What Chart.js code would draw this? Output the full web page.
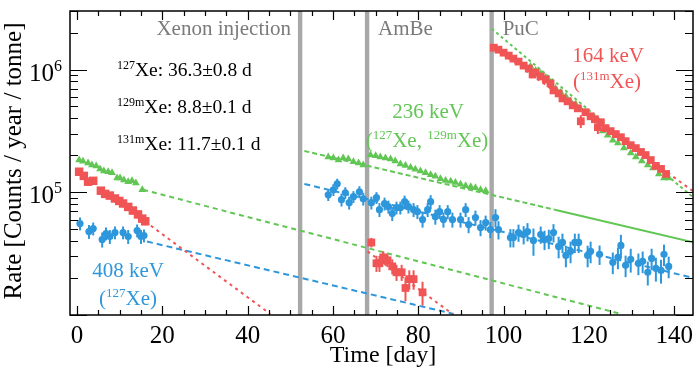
<!DOCTYPE html>
<html><head><meta charset="utf-8">
<script src="https://cdn.jsdelivr.net/npm/chart.js@4.4.1/dist/chart.umd.min.js"></script>
<style>html,body{margin:0;padding:0;background:#fff;}canvas{display:block}</style>
</head><body>
<canvas id="c" width="700" height="372"></canvas>
<script>
// ---------------- data ----------------
const xTickValues = [0, 20, 40, 60, 80, 100, 120, 140];
const yTickValues = [1e5, 1e6];
const yTickLabels = [['10', '5'], ['10', '6']];
const bandTimes = [52.3, 68.0, 97.2];
const bandLabels = ['Xenon injection', 'AmBe', 'PuC'];

// 236 keV (127Xe, 129mXe) - green triangles
const green1T = [0.5,1.4,2.6,3.5,4.5,5.4,6.3,7.3,8.2,9.4,10.1,11.0,12.0,12.9,13.8,15.3];
const green1V = [1.83e5,1.79e5,1.73e5,1.67e5,1.64e5,1.55e5,1.49e5,1.47e5,1.44e5,1.31e5,1.31e5,1.26e5,1.22e5,1.24e5,1.19e5,1.05e5];
const green2T = [58.9,60.1,61.3,62.4,63.6,64.8,66.0,67.1,68.8,70.0,71.1,72.3,73.5,74.6,75.8,77.0,78.2,79.3,80.5,81.7,82.9,84.0,85.2,86.4,87.6,88.7,89.9,91.1,92.3,93.4,94.6,95.8];
const green2V = [1.94e5,1.90e5,1.83e5,1.90e5,1.87e5,1.77e5,1.73e5,1.67e5,2.01e5,1.98e5,1.94e5,1.90e5,1.87e5,1.80e5,1.70e5,1.65e5,1.59e5,1.54e5,1.49e5,1.44e5,1.39e5,1.35e5,1.29e5,1.25e5,1.23e5,1.20e5,1.16e5,1.13e5,1.11e5,1.09e5,1.05e5,1.03e5];
const green3T = [106.3,107.5,108.7,109.9,111.0,112.2,113.4,114.6,115.7,116.9,118.1,119.2,120.4,122.1,123.2,124.4,125.6,126.8,128.2,129.8,131.0,132.4,133.8,135.0,136.4,137.6,138.7];
const green3V = [1.057e6,9.81e5,9.28e5,8.61e5,7.85e5,7.02e5,6.51e5,6.04e5,5.51e5,5.21e5,4.75e5,4.40e5,4.09e5,3.39e5,3.15e5,2.92e5,2.66e5,2.52e5,2.29e5,2.09e5,1.94e5,1.80e5,1.67e5,1.58e5,1.41e5,1.31e5,1.31e5];

// 164 keV (131mXe) - red squares
const red1T = [0.5,1.6,2.6,3.8,5.6,6.6,7.7,8.9,9.9,10.8,12.0,13.1,14.3,15.3,16.0];
const red1V = [1.47e5,1.36e5,1.22e5,1.24e5,1.03e5,9.7e4,9.4e4,8.9e4,8.5e4,8.1e4,7.6e4,7.1e4,6.6e4,6.1e4,5.8e4];
const red1E = [0.07,0.07,0.07,0.07,0.07,0.07,0.07,0.07,0.07,0.07,0.07,0.07,0.07,0.07,0.07];
const red2T = [69.0,70.2,70.9,71.8,72.8,73.9,74.9,76.1,77.0,77.9,78.9,81.0];
const red2V = [3.90e4,2.64e4,2.64e4,2.95e4,2.79e4,2.49e4,2.23e4,2.23e4,1.66e4,1.96e4,1.96e4,1.53e4];
const red2E = [0.09,0.15,0.15,0.12,0.12,0.14,0.15,0.15,0.22,0.18,0.18,0.22];
const red3T = [97.7,98.8,100.0,101.2,102.3,103.5,104.7,105.9,106.8,107.5,108.7,109.9,111.0,111.7,112.9,113.8,115.0,116.2,117.4,118.1,119.2,120.4,121.4,122.1,122.8,123.9,125.1,126.3,127.5,128.6,129.8,131.0,132.2,133.3,134.5,135.7,136.9,138.1];
const red3V = [1.507e6,1.452e6,1.373e6,1.299e6,1.228e6,1.161e6,1.077e6,1.019e6,9.11e5,9.46e5,8.78e5,8.30e5,7.70e5,6.76e5,6.39e5,5.82e5,5.51e5,5.11e5,4.83e5,3.79e5,4.49e5,4.16e5,3.94e5,3.39e5,3.72e5,3.33e5,3.15e5,2.98e5,2.81e5,2.61e5,2.42e5,2.29e5,2.13e5,2.01e5,1.83e5,1.64e5,1.55e5,1.41e5];
const red3E = [0.03,0.03,0.03,0.03,0.03,0.03,0.03,0.03,0.05,0.03,0.03,0.03,0.03,0.05,0.03,0.03,0.03,0.03,0.03,0.12,0.03,0.03,0.03,0.12,0.03,0.03,0.03,0.03,0.03,0.03,0.03,0.03,0.03,0.03,0.03,0.03,0.03,0.03];

// 408 keV (127Xe) - blue circles
const blue1T = [0.7,2.8,3.8,5.9,6.8,7.7,8.9,10.8,12.0,14.1,15.0,15.7];
const blue1V = [5.56e4,4.79e4,5.06e4,4.12e4,4.61e4,4.36e4,4.70e4,4.70e4,4.36e4,4.88e4,4.36e4,4.44e4];
const blue1E = [0.12,0.13,0.12,0.14,0.12,0.13,0.12,0.12,0.13,0.12,0.13,0.12];
const blue2T = [58.9,60.1,61.0,62.0,62.9,63.8,64.8,66.2,67.1,69.0,70.2,70.9,72.1,73.0,73.9,74.9,75.8,76.8,77.7,78.9,79.8,81.0,82.2,82.9,84.0,85.0,85.9,86.9,88.0,89.9,91.1,91.8,93.4,94.6,95.8,96.9];
const blue2V = [9.54e4,1.048e5,1.172e5,8.70e4,9.91e4,8.22e4,9.20e4,1.009e5,8.86e4,8.22e4,9.03e4,7.22e4,8.07e4,7.63e4,6.70e4,7.49e4,7.49e4,8.38e4,7.63e4,7.22e4,6.95e4,5.99e4,7.22e4,8.38e4,6.33e4,6.95e4,5.99e4,6.95e4,5.99e4,5.99e4,7.22e4,5.46e4,6.22e4,5.16e4,5.66e4,4.97e4];
const blue2E = [0.11,0.11,0.10,0.12,0.11,0.12,0.11,0.11,0.12,0.12,0.11,0.13,0.12,0.12,0.13,0.12,0.12,0.12,0.12,0.13,0.13,0.14,0.13,0.13,0.14,0.13,0.14,0.13,0.14,0.14,0.13,0.15,0.14,0.15,0.14,0.15];
const blue3T = [98.1,98.8,101.6,102.3,103.5,104.7,105.6,107.0,108.7,109.6,110.6,111.7,112.9,113.8,114.6,115.7,116.7,117.6,119.7,120.4,122.5,125.6,126.8,127.5,128.6,129.8,131.6,132.6,133.8,134.7,135.7,136.9,137.6,138.7];
const blue3V = [6.22e4,4.97e4,4.28e4,4.28e4,4.70e4,4.53e4,4.79e4,4.05e4,4.53e4,4.12e4,4.20e4,4.70e4,3.62e4,3.90e4,3.06e4,3.30e4,3.90e4,3.90e4,3.06e4,3.30e4,3.12e4,2.69e4,2.95e4,3.69e4,2.54e4,2.84e4,2.64e4,2.74e4,2.23e4,2.89e4,2.40e4,2.31e4,3.12e4,2.49e4];
const blue3E = [0.17,0.17,0.17,0.17,0.16,0.17,0.17,0.25,0.16,0.18,0.18,0.17,0.20,0.18,0.20,0.20,0.18,0.18,0.20,0.20,0.18,0.20,0.20,0.22,0.20,0.22,0.20,0.20,0.22,0.20,0.22,0.22,0.20,0.20];

// fitted decay curves (start/end)
const fitGreenA_T = [15.5, 127.5];  const fitGreenA_V = [1.048e5, 1.02e4];
const fitGreenB_T = [53.3, 112.0];  const fitGreenB_V = [2.17e5, 7.21e4];
const fitGreenB2_T = [112.0, 144.6]; const fitGreenB2_V = [7.21e4, 3.90e4];
const fitGreenC_T = [97.2, 144.6];  const fitGreenC_V = [2.15e6, 9.0e4];
const fitRedA_T = [16.0, 45.3];     const fitRedA_V = [5.77e4, 1.02e4];
const fitRedB_T = [68.1, 88.0];     const fitRedB_V = [3.30e4, 1.02e4];
const fitRedC_T = [97.2, 144.6];    const fitRedC_V = [1.56e6, 1.01e5];
const fitBlueA_T = [16.4, 88.3];    const fitBlueA_V = [3.97e4, 1.02e4];
const fitBlueB_T = [53.3, 144.6];   const fitBlueB_V = [1.17e5, 2.0e4];

// ---------------- style ----------------
const RED = '#f05454', GREEN = '#62c655', BLUE = '#2e97dc', GRAY = '#a8a8a8';
const FONT = '"Liberation Serif"';

const pts = (T, V) => T.map((t, i) => ({x: t, y: V[i]}));

function markers(T, V, E, color, style, r) {
  return {data: pts(T, V), errs: E, showLine: false, pointStyle: style,
    pointRadius: r, pointBackgroundColor: color, pointBorderColor: color, pointBorderWidth: 0,
    backgroundColor: color, borderColor: color, order: 1};
}
function fit(T, V, color, dash) {
  return {data: pts(T, V), showLine: true, pointRadius: 0, borderColor: color,
    borderWidth: 2, borderDash: dash, fill: false, order: 10};
}

const datasets = [
  fit(fitGreenA_T, fitGreenA_V, GREEN, [5,4]),
  fit(fitGreenB_T, fitGreenB_V, GREEN, [5,3]),
  fit(fitGreenB2_T, fitGreenB2_V, GREEN, []),
  fit(fitGreenC_T, fitGreenC_V, GREEN, [3,3]),
  fit(fitRedA_T, fitRedA_V, RED, [3,4]),
  fit(fitRedB_T, fitRedB_V, RED, [3,4]),
  fit(fitRedC_T, fitRedC_V, RED, [3,4]),
  fit(fitBlueA_T, fitBlueA_V, BLUE, [6,4]),
  fit(fitBlueB_T, fitBlueB_V, BLUE, [6,4]),
  markers(blue1T, blue1V, blue1E, BLUE, 'circle', 3.6),
  markers(blue2T, blue2V, blue2E, BLUE, 'circle', 3.6),
  markers(blue3T, blue3V, blue3E, BLUE, 'circle', 3.6),
  markers(green1T, green1V, null, GREEN, 'triangle', 4.5),
  markers(green2T, green2V, null, GREEN, 'triangle', 4.5),
  markers(red1T, red1V, red1E, RED, 'rect', 6),
  markers(red2T, red2V, red2E, RED, 'rect', 5.5),
  markers(red3T, red3V, red3E, RED, 'rect', 5.5),
  markers(green3T, green3V, null, GREEN, 'triangle', 4.5),
];

const SUP = 0.64;
function richWidth(ctx, parts, size) {
  const sup = Math.round(size * SUP);
  let w = 0;
  for (const [t, s] of parts) { ctx.font = (s ? sup : size) + 'px ' + FONT; w += ctx.measureText(t).width; }
  return w;
}
function drawRich(ctx, x, y, parts, size, color) {
  const sup = Math.round(size * SUP);
  ctx.fillStyle = color; ctx.textAlign = 'left'; ctx.textBaseline = 'alphabetic';
  for (const [t, s] of parts) {
    ctx.font = (s ? sup : size) + 'px ' + FONT;
    ctx.fillText(t, x, s ? y - size * 0.38 : y);
    x += ctx.measureText(t).width;
  }
}
function drawRichC(ctx, cx, y, parts, size, color) {
  drawRich(ctx, cx - richWidth(ctx, parts, size) / 2, y, parts, size, color);
}

const rootStyle = {
  id: 'rootStyle',
  beforeDatasetsDraw(chart) {
    const {ctx, chartArea: a, scales: {x}} = chart;
    ctx.save();
    ctx.fillStyle = GRAY;
    for (const t of bandTimes) {
      const px = x.getPixelForValue(t);
      ctx.fillRect(px - 2.2, a.top, 4.4, a.bottom - a.top);
    }
    ctx.restore();
  },
  beforeDatasetDraw(chart, args) {
    const ds = chart.data.datasets[args.index];
    if (!ds.errs) return;
    const {ctx, chartArea: a, scales: {x, y}} = chart;
    ctx.save();
    ctx.beginPath(); ctx.rect(a.left, a.top, a.right - a.left, a.bottom - a.top); ctx.clip();
    ctx.strokeStyle = ds.borderColor; ctx.lineWidth = 2;
    ds.data.forEach((p, i) => {
      const e = ds.errs[i] * p.y;
      const px = x.getPixelForValue(p.x);
      ctx.beginPath();
      ctx.moveTo(px, y.getPixelForValue(p.y + e));
      ctx.lineTo(px, y.getPixelForValue(Math.max(p.y - e, 1)));
      ctx.stroke();
    });
    ctx.restore();
  },
  afterDraw(chart) {
    const {ctx, chartArea: a, scales: {x, y}} = chart;
    ctx.save();
    ctx.strokeStyle = '#000'; ctx.lineWidth = 1.5;
    ctx.strokeRect(a.left, a.top, a.right - a.left, a.bottom - a.top);
    ctx.lineWidth = 1.2;
    for (let t = 0; t <= x.max; t += 5) {
      const px = Math.round(x.getPixelForValue(t)) + 0.5;
      const L = (t % 20 === 0) ? 9 : 5;
      ctx.beginPath();
      ctx.moveTo(px, a.bottom); ctx.lineTo(px, a.bottom - L);
      ctx.moveTo(px, a.top); ctx.lineTo(px, a.top + L);
      ctx.stroke();
    }
    for (let e = 4; e <= 6; e++) {
      for (let m = 1; m <= 9; m++) {
        const v = m * Math.pow(10, e);
        if (v < y.min || v > y.max) continue;
        const py = Math.round(y.getPixelForValue(v)) + 0.5;
        const L = m === 1 ? 17 : 8;
        ctx.beginPath();
        ctx.moveTo(a.left, py); ctx.lineTo(a.left + L, py);
        ctx.moveTo(a.right, py); ctx.lineTo(a.right - L, py);
        ctx.stroke();
      }
    }
    ctx.fillStyle = '#000'; ctx.textBaseline = 'alphabetic';
    yTickValues.forEach((v, i) => {
      const py = y.getPixelForValue(v);
      ctx.font = '25px ' + FONT; ctx.textAlign = 'right';
      ctx.fillText(yTickLabels[i][0], 54, py + 11);
      ctx.font = '16px ' + FONT; ctx.textAlign = 'left';
      ctx.fillText(yTickLabels[i][1], 54, py + 1);
    });
    ctx.font = '24px ' + FONT; ctx.textAlign = 'center';
    ctx.fillText('Time [day]', 383, 362);
    ctx.save();
    ctx.translate(21, 161); ctx.rotate(-Math.PI / 2);
    ctx.font = '25px ' + FONT; ctx.textAlign = 'center';
    ctx.fillText('Rate [Counts / year / tonne]', 0, 0);
    ctx.restore();
    ctx.fillStyle = '#7a7a7a'; ctx.font = '21px ' + FONT;
    const b0 = x.getPixelForValue(bandTimes[0]), b1 = x.getPixelForValue(bandTimes[1]), b2 = x.getPixelForValue(bandTimes[2]);
    ctx.textAlign = 'right'; ctx.fillText(bandLabels[0], b0 - 9, 35);
    ctx.textAlign = 'left'; ctx.fillText(bandLabels[1], b1 + 11, 35);
    ctx.fillText(bandLabels[2], b2 + 11, 35);
    const hl = [
      [['127', 1], ['Xe: 36.3±0.8 d', 0]],
      [['129m', 1], ['Xe: 8.8±0.1 d', 0]],
      [['131m', 1], ['Xe: 11.7±0.1 d', 0]],
    ];
    const hlY = [76, 113, 150];
    hl.forEach((parts, i) => drawRich(ctx, 117, hlY[i], parts, 19.5, '#000'));
    drawRichC(ctx, 428, 118, [['236 keV', 0]], 21, GREEN);
    drawRichC(ctx, 427, 147, [['(', 0], ['127', 1], ['Xe, ', 0], ['129m', 1], ['Xe)', 0]], 21, GREEN);
    drawRichC(ctx, 608, 62, [['164 keV', 0]], 21, RED);
    drawRichC(ctx, 607, 88, [['(', 0], ['131m', 1], ['Xe)', 0]], 21, RED);
    drawRichC(ctx, 128, 277, [['408 keV', 0]], 21, BLUE);
    drawRichC(ctx, 128, 305, [['(', 0], ['127', 1], ['Xe)', 0]], 21, BLUE);
    ctx.restore();
  }
};

new Chart(document.getElementById('c'), {
  type: 'scatter',
  data: {datasets},
  options: {
    responsive: false, animation: false, devicePixelRatio: 1,
    layout: {padding: {left: 0, right: 7, top: 11, bottom: 0}},
    plugins: {legend: {display: false}, tooltip: {enabled: false}},
    scales: {
      x: {type: 'linear', min: -1.64, max: 144.4,
        grid: {display: false, drawTicks: false}, border: {display: false},
        afterBuildTicks: s => { s.ticks = xTickValues.map(v => ({value: v})); },
        afterFit: s => { s.height = 57; s.paddingLeft = 0; s.paddingRight = 0; },
        ticks: {color: '#000', font: {family: 'Liberation Serif', size: 25}, padding: 6, maxRotation: 0,
          callback: v => String(v)}},
      y: {type: 'logarithmic', min: 1e4, max: 3e6,
        grid: {display: false, drawTicks: false}, border: {display: false},
        afterFit: s => { s.width = 70; },
        ticks: {display: false}}
    }
  },
  plugins: [rootStyle]
});
</script>
</body></html>
